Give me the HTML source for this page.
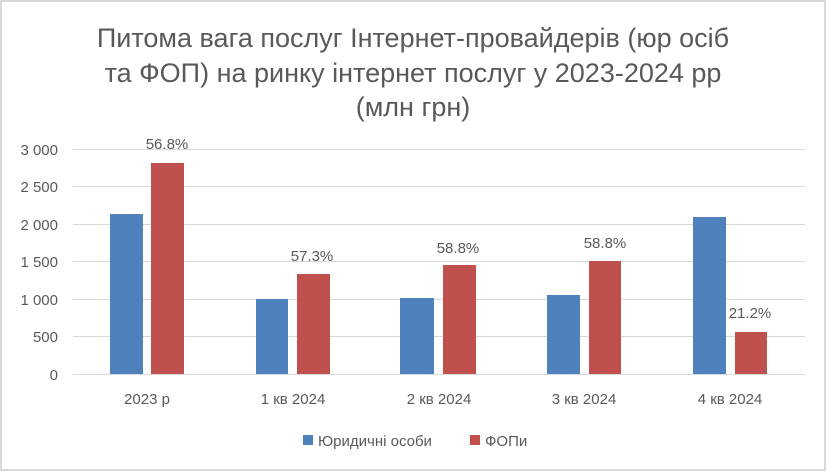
<!DOCTYPE html>
<html><head><meta charset="utf-8"><style>
body{margin:0;background:#fff}
svg text{font-family:"Liberation Sans","DejaVu Sans",sans-serif;fill:#595959}
</style></head><body>
<svg width="827" height="471" xmlns="http://www.w3.org/2000/svg">
<rect x="0" y="0" width="827" height="471" fill="#fff"/>
<rect x="1" y="1" width="824" height="469" fill="none" stroke="#d9d9d9" stroke-width="2"/>
<g font-size="27" text-anchor="middle">
<text x="413" y="47">Питома вага послуг Інтернет-провайдерів (юр осіб</text>
<text x="413" y="82">та ФОП) на ринку інтернет послуг у 2023-2024 рр</text>
<text x="413" y="116">(млн грн)</text>
</g>
<g stroke="#d9d9d9" stroke-width="1">
<line x1="73" x2="805" y1="149.5" y2="149.5"/>
<line x1="73" x2="805" y1="186.5" y2="186.5"/>
<line x1="73" x2="805" y1="224.5" y2="224.5"/>
<line x1="73" x2="805" y1="261.5" y2="261.5"/>
<line x1="73" x2="805" y1="299.5" y2="299.5"/>
<line x1="73" x2="805" y1="336.5" y2="336.5"/>
<line x1="73" x2="805" y1="374.5" y2="374.5"/>
</g>
<g font-size="15" text-anchor="end">
<text x="58" y="155">3 000</text>
<text x="58" y="192">2 500</text>
<text x="58" y="230">2 000</text>
<text x="58" y="267">1 500</text>
<text x="58" y="305">1 000</text>
<text x="58" y="342">500</text>
<text x="58" y="380">0</text>
</g>
<g fill="#4f81bd">
<rect x="110" y="214" width="33" height="160"/>
<rect x="256" y="299" width="32" height="75"/>
<rect x="400" y="298" width="34" height="76"/>
<rect x="547" y="295" width="33" height="79"/>
<rect x="693" y="217" width="33" height="157"/>
</g>
<g fill="#c0504d">
<rect x="151" y="163" width="33" height="211"/>
<rect x="297" y="274" width="33" height="100"/>
<rect x="443" y="265" width="33" height="109"/>
<rect x="589" y="261" width="32" height="113"/>
<rect x="735" y="332" width="32" height="42"/>
</g>
<g font-size="15" text-anchor="middle">
<text x="167" y="149">56.8%</text>
<text x="312" y="261">57.3%</text>
<text x="458" y="253">58.8%</text>
<text x="605" y="248">58.8%</text>
<text x="750" y="318">21.2%</text>
<text x="147" y="404">2023 р</text>
<text x="293" y="404">1 кв 2024</text>
<text x="439" y="404">2 кв 2024</text>
<text x="584" y="404">3 кв 2024</text>
<text x="730" y="404">4 кв 2024</text>
</g>
<rect x="303" y="435" width="10" height="10" fill="#4f81bd"/>
<text x="318" y="446" font-size="15">Юридичні особи</text>
<rect x="470" y="435" width="10" height="10" fill="#c0504d"/>
<text x="485" y="446" font-size="15">ФОПи</text>
</svg>
</body></html>
